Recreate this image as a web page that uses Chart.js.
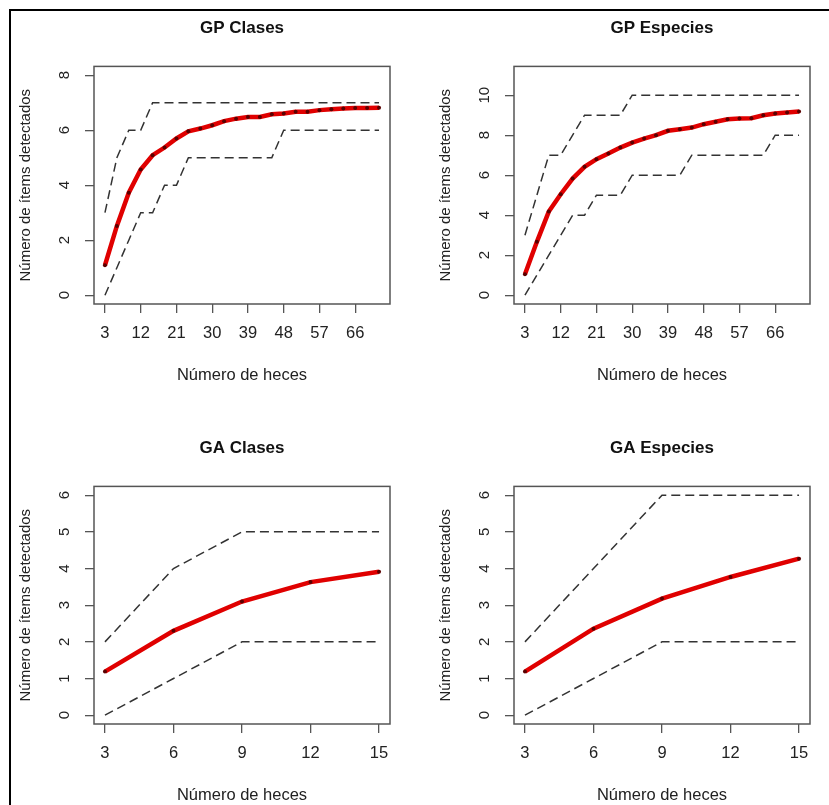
<!DOCTYPE html>
<html>
<head>
<meta charset="utf-8">
<script src="https://cdn.jsdelivr.net/npm/chart.js@4.4.1/dist/chart.umd.min.js"></script>
<style>
  html, body { margin: 0; padding: 0; background: #fff; }
  #page { position: relative; width: 829px; height: 805px; overflow: hidden; background: #fff; }
  #frame { position: absolute; left: 9px; top: 9px; width: 830px; height: 810px;
           border-left: 2px solid #000; border-top: 2px solid #000; }
  .panel { position: absolute; }
</style>
</head>
<body>
<div id="page">
  <div id="frame"></div>
  <div class="panel" style="left:0;top:0;width:414px;height:402px"><canvas id="gpClases"></canvas></div>
  <div class="panel" style="left:414px;top:0;width:415px;height:402px"><canvas id="gpEspecies"></canvas></div>
  <div class="panel" style="left:0;top:420px;width:414px;height:402px"><canvas id="gaClases"></canvas></div>
  <div class="panel" style="left:414px;top:420px;width:415px;height:402px"><canvas id="gaEspecies"></canvas></div>
</div>
<script>
// número de heces (eje x)
const heces = [3, 6, 9, 12, 15, 18, 21, 24, 27, 30, 33, 36, 39, 42, 45, 48, 51, 54, 57, 60, 63, 66, 69, 72];
const hecesGA = [3, 6, 9, 12, 15];

const ticksGPx = [3, 12, 21, 30, 39, 48, 57, 66];
const ticksGAx = [3, 6, 9, 12, 15];
const ticksGPClasesY = [0, 2, 4, 6, 8];
const ticksGPEspeciesY = [0, 2, 4, 6, 8, 10];
const ticksGAY = [0, 1, 2, 3, 4, 5, 6];

// GP Clases
const gpClasesMedia = [1.09, 2.52, 3.73, 4.57, 5.09, 5.37, 5.70, 5.96, 6.06, 6.18, 6.33, 6.42,
                       6.48, 6.48, 6.58, 6.61, 6.67, 6.67, 6.73, 6.76, 6.79, 6.81, 6.81, 6.82];
const gpClasesSup = [3, 5, 6, 6, 7, 7, 7, 7, 7, 7, 7, 7, 7, 7, 7, 7, 7, 7, 7, 7, 7, 7, 7, 7];
const gpClasesInf = [0, 1, 2, 3, 3, 4, 4, 5, 5, 5, 5, 5, 5, 5, 5, 6, 6, 6, 6, 6, 6, 6, 6, 6];

// GP Especies
const gpEspeciesMedia = [1.05, 2.67, 4.18, 5.05, 5.83, 6.42, 6.80, 7.08, 7.38, 7.63, 7.83, 8.00,
                         8.22, 8.30, 8.38, 8.55, 8.67, 8.80, 8.83, 8.85, 9.00, 9.08, 9.13, 9.18];
const gpEspeciesSup = [3, 5, 7, 7, 8, 9, 9, 9, 9, 10, 10, 10, 10, 10, 10, 10, 10, 10, 10, 10, 10, 10, 10, 10];
const gpEspeciesInf = [0, 1, 2, 3, 4, 4, 5, 5, 5, 6, 6, 6, 6, 6, 7, 7, 7, 7, 7, 7, 7, 8, 8, 8];

// GA Clases
const gaClasesMedia = [1.19, 2.30, 3.10, 3.63, 3.91];
const gaClasesSup = [2, 4, 5, 5, 5];
const gaClasesInf = [0, 1, 2, 2, 2];

// GA Especies
const gaEspeciesMedia = [1.19, 2.36, 3.18, 3.77, 4.27];
const gaEspeciesSup = [2, 4, 6, 6, 6];
const gaEspeciesInf = [0, 1, 2, 2, 2];

Chart.defaults.font.family = '"Liberation Sans", Arial, sans-serif';
Chart.defaults.color = '#222';

const FONT = '"Liberation Sans", Arial, sans-serif';

// y labels rotated like R (las = 0)
const rotatedYLabels = {
    id: 'rotatedYLabels',
    afterDraw(chart) {
        const ctx = chart.ctx;
        const ys = chart.scales.y;
        ctx.save();
        ctx.fillStyle = '#222';
        ctx.font = '15px ' + FONT;
        ctx.textAlign = 'center';
        ctx.textBaseline = 'middle';
        ys.ticks.forEach(function (t) {
            ctx.save();
            ctx.translate(chart.chartArea.left - 29, ys.getPixelForValue(t.value));
            ctx.rotate(-Math.PI / 2);
            ctx.fillText(String(t.value), 0, 0);
            ctx.restore();
        });
        ctx.restore();
    }
};

// box around the plot region
const plotBox = {
    id: 'plotBox',
    afterDraw(chart) {
        const a = chart.chartArea, ctx = chart.ctx;
        ctx.save();
        ctx.strokeStyle = '#555';
        ctx.lineWidth = 1.5;
        ctx.strokeRect(a.left, a.top, a.right - a.left, a.bottom - a.top);
        ctx.restore();
    }
};

function pts(xs, ys) {
    return xs.map((x, i) => ({ x: x, y: ys[i] }));
}

// R style 4% axis extension
function ext(lo, hi) {
    const d = (hi - lo) * 0.04;
    return [lo - d, hi + d];
}

function makePanel(id, p) {
    const [xMin, xMax] = ext(p.xs[0], p.xs[p.xs.length - 1]);
    const [yMin, yMax] = ext(p.ylim[0], p.ylim[1]);
    const gridOpts = { drawOnChartArea: false, drawTicks: true, tickLength: 9, color: '#555', lineWidth: 1.3 };
    const dashed = {
        borderColor: '#333',
        borderWidth: 1.5,
        borderDash: [9, 5],
        pointRadius: 0,
        tension: 0,
        fill: false
    };

    new Chart(document.getElementById(id), {
        type: 'line',
        data: {
            datasets: [
                Object.assign({ label: 'sup', data: pts(p.xs, p.sup) }, dashed),
                Object.assign({ label: 'inf', data: pts(p.xs, p.inf) }, dashed),
                {
                    label: 'media',
                    data: pts(p.xs, p.media),
                    borderColor: '#e00000',
                    borderWidth: 4.5,
                    pointRadius: 2,
                    pointBackgroundColor: '#5a0000',
                    pointBorderWidth: 0,
                    tension: 0
                }
            ]
        },
        options: {
            responsive: true,
            maintainAspectRatio: false,
            animation: false,
            layout: { padding: { top: 0, left: 0, bottom: 0, right: p.padRight } },
            plugins: {
                legend: { display: false },
                tooltip: { enabled: false },
                title: {
                    display: true,
                    fullSize: false,
                    text: p.title,
                    color: '#111',
                    font: { size: 17, weight: 'bold' },
                    padding: { top: 18, bottom: 28 }
                }
            },
            scales: {
                x: {
                    type: 'linear',
                    min: xMin,
                    max: xMax,
                    afterBuildTicks: s => { s.ticks = p.xTicks.map(v => ({ value: v })); },
                    afterFit: s => { s.height = 98; },
                    grid: gridOpts,
                    border: { display: false },
                    ticks: { font: { size: 16.5 }, padding: 11, maxRotation: 0, autoSkip: false, color: '#222' },
                    title: {
                        display: true,
                        text: 'Número de heces',
                        color: '#222',
                        font: { size: 16.5 },
                        padding: { top: 0, bottom: 17 }
                    }
                },
                y: {
                    type: 'linear',
                    min: yMin,
                    max: yMax,
                    afterBuildTicks: s => { s.ticks = p.yTicks.map(v => ({ value: v })); },
                    afterFit: s => { s.width = p.areaLeft; },
                    grid: gridOpts,
                    border: { display: false },
                    ticks: { display: false },
                    title: {
                        display: true,
                        text: 'Número de ítems detectados',
                        color: '#222',
                        font: { size: 15 },
                        padding: { top: p.areaLeft - 77, bottom: 0 }
                    }
                }
            }
        },
        plugins: [plotBox, rotatedYLabels]
    });
}

makePanel('gpClases', {
    title: 'GP Clases', xs: heces, media: gpClasesMedia, sup: gpClasesSup, inf: gpClasesInf,
    ylim: [0, 8], xTicks: ticksGPx, yTicks: ticksGPClasesY, areaLeft: 94, padRight: 24
});
makePanel('gpEspecies', {
    title: 'GP Especies', xs: heces, media: gpEspeciesMedia, sup: gpEspeciesSup, inf: gpEspeciesInf,
    ylim: [0, 11], xTicks: ticksGPx, yTicks: ticksGPEspeciesY, areaLeft: 100, padRight: 19
});
makePanel('gaClases', {
    title: 'GA Clases', xs: hecesGA, media: gaClasesMedia, sup: gaClasesSup, inf: gaClasesInf,
    ylim: [0, 6], xTicks: ticksGAx, yTicks: ticksGAY, areaLeft: 94, padRight: 24
});
makePanel('gaEspecies', {
    title: 'GA Especies', xs: hecesGA, media: gaEspeciesMedia, sup: gaEspeciesSup, inf: gaEspeciesInf,
    ylim: [0, 6], xTicks: ticksGAx, yTicks: ticksGAY, areaLeft: 100, padRight: 19
});
</script>
</body>
</html>
